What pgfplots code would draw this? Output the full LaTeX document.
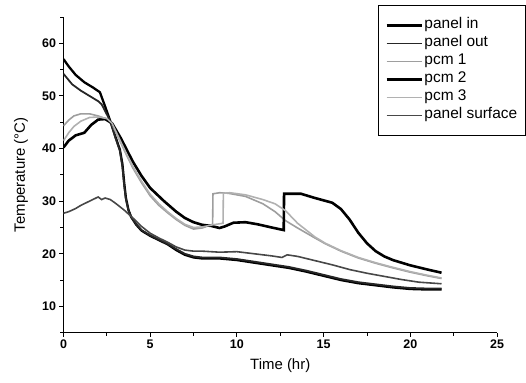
\documentclass[border=0pt]{standalone}
\usepackage{pgfplots}
\pgfplotsset{compat=1.18}
\usepackage{fontspec}
\setmainfont{Liberation Sans}
\definecolor{pcmgray}{gray}{0.62}
\definecolor{surfgray}{gray}{0.28}
\definecolor{outgray}{gray}{0.15}
\begin{document}
\begin{tikzpicture}
\useasboundingbox (-63.5bp,-50.3bp) rectangle (462.5bp,332.7bp);
\begin{axis}[
  scale only axis,
  width=433.5bp, height=315.7bp,
  xmin=0, xmax=25, ymin=5, ymax=65,
  axis x line*=bottom, axis y line*=left,
  axis line style={line width=1.2pt},
  xtick={0,5,10,15,20,25}, ytick={10,20,30,40,50,60},
  minor xtick={2.5,7.5,12.5,17.5,22.5},
  minor ytick={5,15,25,35,45,55,65},
  tick align=outside,
  major tick length=4bp, minor tick length=3bp,
  tick style={line width=0.9pt, black},
  /pgf/number format/assume math mode=true,
  tick label style={font=\fontsize{12.5}{14}\selectfont\bfseries},
  xlabel={Time (hr)}, ylabel={Temperature (°C)},
  label style={font=\fontsize{15}{18}\selectfont},
  xlabel style={at={(axis description cs:0.5,0)}, anchor=north, yshift=-22bp},
  ylabel style={at={(axis description cs:0,0.5)}, anchor=south, xshift=0bp, yshift=32bp},
  legend cell align=left,
  legend style={at={(rel axis cs:0.7255,1.038)}, anchor=north west,
    draw=black, line width=0.8pt, inner xsep=7bp, inner ysep=11bp,
    font=\fontsize{15.5}{18}\selectfont,
    nodes={text height=10bp, text depth=3bp, inner ysep=2.5bp, inner xsep=1.5bp},
    row sep=0pt},
  legend image code/.code={\draw[#1] (0bp,0bp) -- (35bp,0bp);},
]
\addplot[black, line width=2.3pt] coordinates {
(0,57.0) (0.3,55.6) (0.7,54.0) (1.2,52.6) (1.7,51.6) (2.1,50.7) (2.4,48.0) (2.7,45.2) (3.0,42.2) (3.25,39.8) (3.4,37.0) (3.5,33.5) (3.6,30.6) (3.75,28.3) (3.9,27.0) (4.2,25.5) (4.5,24.4) (5.0,23.4) (5.5,22.6) (6.0,21.8) (6.5,20.7) (7.0,19.8) (7.5,19.3) (8.0,19.1) (9.0,19.1) (10.0,18.8) (11.0,18.3) (12.0,17.8) (13.0,17.3) (14.0,16.6) (15.0,15.8) (16.0,15.0) (17.0,14.4) (18.0,14.0) (19.0,13.6) (20.0,13.3) (21.0,13.2) (21.8,13.2)};
\addlegendentry{panel in}
\addplot[outgray, line width=1.8pt] coordinates {
(0,54.2) (0.5,52.2) (1.0,51.0) (1.5,50.0) (2.0,49.0) (2.2,48.4) (2.7,45.2) (3.0,42.0) (3.25,39.6) (3.4,36.5) (3.5,33.0) (3.6,30.4) (3.75,28.2) (3.9,27.0) (4.2,25.6) (4.5,24.5) (5.0,23.5) (5.5,22.7) (6.0,21.9) (6.5,20.9) (7.0,20.0) (7.5,19.5) (8.0,19.3) (9.0,19.3) (10.0,19.0) (11.0,18.5) (12.0,18.0) (13.0,17.5) (14.0,16.8) (15.0,16.0) (16.0,15.2) (17.0,14.6) (18.0,14.2) (19.0,13.8) (20.0,13.5) (21.0,13.4) (21.8,13.4)};
\addlegendentry{panel out}
\addplot[pcmgray, line width=1.6pt] coordinates {
(0,44.3) (0.3,45.4) (0.6,46.2) (1.0,46.6) (1.5,46.6) (2.0,46.2) (2.5,45.6) (2.8,44.6) (3.2,41.8) (3.6,39.0) (4.0,36.3) (4.5,33.5) (5.0,31.0) (5.5,29.2) (6.0,27.8) (6.5,26.5) (7.0,25.4) (7.5,24.7) (8.0,24.9) (8.6,25.6) (8.62,31.4) (9.0,31.6) (9.5,31.5) (10.5,30.9) (11.5,29.5) (12.2,28.0) (12.8,26.3) (13.5,24.9) (14.5,23.0) (15.1,21.9) (16.0,20.5) (17.0,19.2) (18.0,18.2) (18.9,17.4) (20.0,16.5) (21.0,15.8) (21.8,15.3)};
\addlegendentry{pcm 1}
\addplot[black, line width=2.6pt] coordinates {
(0,40.2) (0.3,41.5) (0.7,42.5) (1.2,43.0) (1.6,44.5) (2.0,45.5) (2.4,45.6) (2.8,44.8) (3.3,42.0) (4.0,37.5) (4.5,34.8) (5.0,32.5) (5.8,30.0) (6.5,28.0) (7.0,26.8) (7.5,26.0) (8.0,25.5) (8.5,25.3) (9.0,24.9) (9.3,25.2) (9.8,25.9) (10.5,26.0) (11.2,25.6) (12.0,25.0) (12.7,24.5) (12.72,31.4) (13.7,31.4) (14.5,30.6) (15.5,29.7) (16.0,28.5) (16.5,26.5) (17.0,24.0) (17.5,22.0) (18.0,20.5) (18.5,19.5) (19.0,18.8) (20.0,17.8) (21.0,17.0) (21.8,16.4)};
\addlegendentry{pcm 2}
\addplot[pcmgray!80, line width=1.6pt] coordinates {
(0,41.5) (0.3,43.0) (0.6,44.2) (1.0,45.2) (1.5,45.9) (2.0,46.0) (2.5,45.7) (2.8,44.8) (3.2,42.0) (3.6,39.2) (4.0,36.6) (4.5,33.8) (5.0,31.3) (5.5,29.5) (6.0,28.0) (6.5,26.7) (7.0,25.6) (7.5,25.0) (8.0,25.1) (8.6,25.5) (9.2,25.8) (9.22,31.5) (9.6,31.6) (10.5,31.2) (11.5,30.3) (12.2,29.5) (12.8,28.2) (13.5,25.8) (14.5,23.2) (15.1,22.0) (16.0,20.6) (17.0,19.3) (18.0,18.3) (18.9,17.5) (20.0,16.6) (21.0,15.9) (21.8,15.4)};
\addlegendentry{pcm 3}
\addplot[surfgray, line width=1.6pt] coordinates {
(0,27.7) (0.3,28.0) (0.7,28.6) (1.0,29.2) (1.5,30.0) (2.0,30.8) (2.2,30.3) (2.4,30.6) (2.7,30.3) (3.0,29.6) (3.5,28.3) (4.0,26.8) (4.5,25.2) (5.0,23.9) (5.5,23.0) (6.0,22.2) (6.5,21.3) (7.0,20.7) (7.5,20.5) (8.0,20.5) (9.0,20.3) (10.0,20.4) (11.0,20.0) (12.0,19.6) (12.6,19.3) (12.9,19.8) (13.5,19.5) (14.5,18.7) (15.5,17.9) (16.5,17.0) (17.5,16.3) (18.5,15.7) (19.5,15.1) (20.5,14.6) (21.8,14.3)};
\addlegendentry{panel surface}
\end{axis}
\end{tikzpicture}
\end{document}
